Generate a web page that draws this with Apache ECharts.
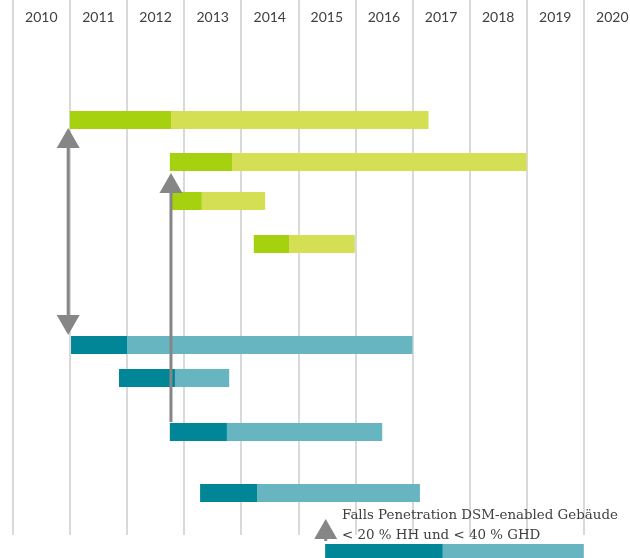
<!DOCTYPE html>
<html>
<head>
<meta charset="utf-8">
<script src="https://cdn.jsdelivr.net/npm/echarts@6/dist/echarts.min.js"></script>
<style>html,body{margin:0;padding:0;background:#fff}#c{width:630px;height:558px}</style>
</head>
<body>
<div id="c"></div>
<script>
// ---- data ----
var years = ['2010','2011','2012','2013','2014','2015','2016','2017','2018','2019','2020'];
var rowPos   = [6.0, 8.1, 10.05, 12.2, 17.25, 18.9, 21.6, 24.65, 27.65];
var groups   = ['g','g','g','g','t','t','t','t','t'];
var starts   = [2011.0, 2012.75, 2012.78, 2014.22, 2011.02, 2011.86, 2012.75, 2013.28, 2015.47];
var splits   = [2012.77, 2013.84, 2013.31, 2014.84, 2012.0, 2012.84, 2013.75, 2014.28, 2017.53];
var ends     = [2017.28, 2019.0, 2014.42, 2015.99, 2017.0, 2013.79, 2016.47, 2017.13, 2020.0];
// arrows: x (year), y from, y to, head at top, head at bottom
var arrowX    = [2010.97, 2012.77, 2015.48];
var arrowTop  = [6.4, 8.65, 25.95];
var arrowBot  = [16.75, 21.1, 27.05];
var headTop   = [1, 1, 1];
var headBot   = [1, 0, 0];
var noteLines = ['Falls Penetration DSM-enabled Gebäude', '< 20 % HH und < 40 % GHD'];

var colors = { g: ['#a6d10f', '#d5df53'], t: ['#008696', '#67b5c1'] };

var barData = rowPos.map(function (r, i) { return [r, starts[i], splits[i], ends[i], i]; });
var arrowData = arrowX.map(function (x, i) { return [x, arrowTop[i], arrowBot[i], headTop[i], headBot[i]]; });

var chart = echarts.init(document.getElementById('c'));
chart.setOption({
  animation: false,
  grid: { left: 12.8, top: 0, width: 628.1, bottom: 23, containLabel: false, outerBoundsMode: 'none' },
  xAxis: [
    { type: 'value', min: 2010, max: 2021, interval: 1, position: 'bottom',
      axisLine: { show: false }, axisTick: { show: false }, axisLabel: { show: false },
      splitLine: { show: true, lineStyle: { color: '#d9d9d9', width: 2 } } },
    { type: 'category', data: years, position: 'top', boundaryGap: true,
      axisLine: { show: false }, axisTick: { show: false }, splitLine: { show: false },
      axisLabel: { inside: true, margin: 10, fontSize: 14, color: '#404040', fontFamily: 'Lato' } }
  ],
  yAxis: { type: 'value', min: 0, max: 26.75, inverse: true, show: false },
  series: [
    { type: 'custom', xAxisIndex: 0, yAxisIndex: 0, clip: false,
      data: barData,
      renderItem: function (params, api) {
        var r = api.value(0), s = api.value(1), m = api.value(2), e = api.value(3);
        var g = groups[api.value(4)];
        var p0 = api.coord([s, r]), p1 = api.coord([m, r]), p2 = api.coord([e, r]);
        var h = 18;
        return { type: 'group', children: [
          { type: 'rect', shape: { x: p1[0], y: p0[1] - h / 2, width: p2[0] - p1[0], height: h }, style: { fill: colors[g][1] } },
          { type: 'rect', shape: { x: p0[0], y: p0[1] - h / 2, width: p1[0] - p0[0], height: h }, style: { fill: colors[g][0] } }
        ]};
      } },
    { type: 'custom', xAxisIndex: 0, yAxisIndex: 0, clip: false, z: 5,
      data: arrowData,
      renderItem: function (params, api) {
        var x = api.value(0), y0 = api.value(1), y1 = api.value(2);
        var ht = api.value(3), hb = api.value(4);
        var a = api.coord([x, y0]), b = api.coord([x, y1]);
        var hw = 11.5, hh = 20, col = '#868686';
        var kids = [];
        kids.push({ type: 'line', shape: { x1: a[0], y1: a[1] + (ht ? hh - 1 : 0), x2: b[0], y2: b[1] - (hb ? hh - 1 : 0) },
          style: { stroke: col, lineWidth: 3 } });
        if (ht) kids.push({ type: 'polygon', shape: { points: [[a[0], a[1]], [a[0] - hw, a[1] + hh], [a[0] + hw, a[1] + hh]] }, style: { fill: col } });
        if (hb) kids.push({ type: 'polygon', shape: { points: [[b[0], b[1]], [b[0] - hw, b[1] - hh], [b[0] + hw, b[1] - hh]] }, style: { fill: col } });
        return { type: 'group', children: kids };
      } }
  ],
  graphic: [
    { type: 'text', left: 342, top: 506, z: 10,
      style: { text: noteLines.join('\n'), fill: '#404040', font: '13.4px "DejaVu Serif"', lineHeight: 20 } }
  ]
});
</script>
</body>
</html>
